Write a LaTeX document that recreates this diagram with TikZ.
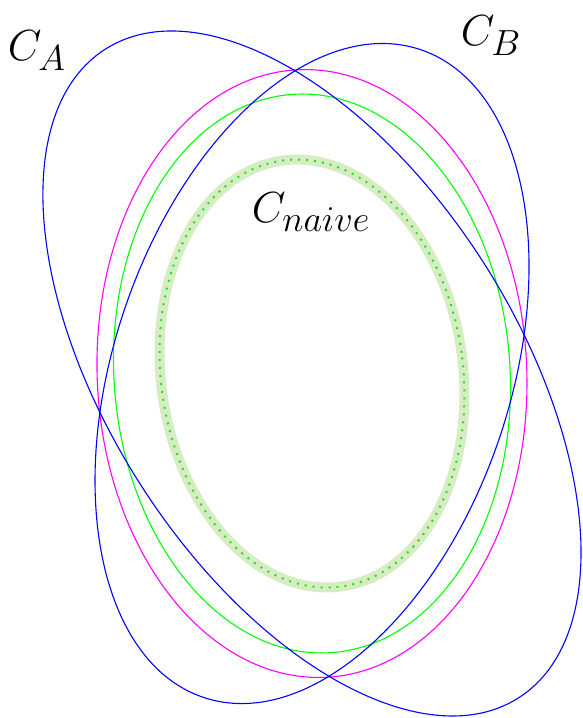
\documentclass[tikz,border=0pt]{standalone}
\usepackage{xcolor}
\usepackage{amsmath}
\usepackage{tikz}
\usetikzlibrary{positioning}

\definecolor{naiveband}{RGB}{214,236,194}
\definecolor{naivedot}{RGB}{40,225,30}
\definecolor{fusemag}{RGB}{255,0,255}
\definecolor{fusegreen}{RGB}{0,255,0}
\definecolor{covblue}{RGB}{0,0,255}

\begin{document}
\begin{tikzpicture}[
  x=1pt, y=1pt,
  cov/.style={line width=1.1pt},
  band/.style={naiveband, line width=10pt},
  dots/.style={naivedot, line width=2pt, dash pattern=on 2pt off 6pt},
  lbl/.style={inner sep=0pt, font=\Huge, scale=1.75}
]
  \useasboundingbox (0,0) rectangle (582,718);
  \coordinate (o) at (312,344.5);
  % naive fusion
  \draw[band, rotate around={7.9:(o)}] (o) ellipse [x radius=151, y radius=215];
  \draw[dots, rotate around={7.9:(o)}] (o) ellipse [x radius=151, y radius=215];
  % fused ellipses
  \draw[cov, fusegreen, rotate around={4:(o)}] (o) ellipse [x radius=198, y radius=279.8];
  \draw[cov, fusemag, rotate around={2.5:(o)}] (o) ellipse [x radius=214.8, y radius=304.1];
  % C_A and C_B
  \draw[cov, covblue, rotate around={-57.5:(o)}] (o) ellipse [x radius=384.6, y radius=204.3];
  \draw[cov, covblue, rotate around={71.5:(o)}] (o) ellipse [x radius=341.6, y radius=198.2];
  \node[lbl] (ca) at (37,667) {$C_A$};
  \node[lbl] (cb) at (491,682) {$C_B$};
  \node[lbl] (cnaive) at (311,506) {$C_{naive}$};
\end{tikzpicture}
\end{document}
